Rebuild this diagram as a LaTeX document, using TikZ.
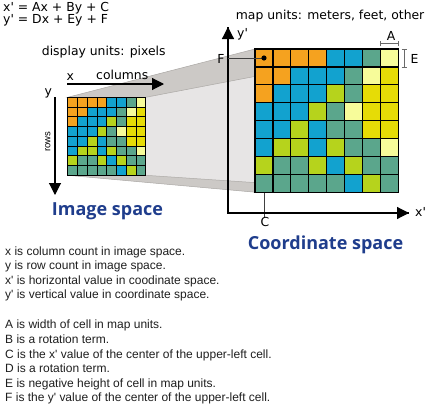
\documentclass[tikz,border=0pt]{standalone}
\usepackage{fontspec}
\setmainfont{Liberation Sans}
\newfontfamily\lblfont{DejaVu Sans}
\newfontfamily\ttlfont{Open Sans}
\usetikzlibrary{arrows.meta}
\definecolor{cO}{HTML}{F5A21F}
\definecolor{cB}{HTML}{12A2CF}
\definecolor{cG}{HTML}{5BA68C}
\definecolor{cL}{HTML}{F7FC9A}
\definecolor{cY}{HTML}{E6DC06}
\definecolor{cM}{HTML}{B6D31C}
\definecolor{bandgray}{HTML}{CCC9C6}
\definecolor{bandedge}{HTML}{AAA7A4}
\definecolor{facegray}{HTML}{E7E5E5}
\definecolor{titleblue}{HTML}{1F3D8C}
\definecolor{markgray}{HTML}{6A6A6A}
\definecolor{textdark}{HTML}{1E1E1E}
\newcommand\pr{\textquotesingle}
\newcommand\rastercells[4]{%
  \begin{scope}[shift={(#1,#2)}, x=#3pt, y=-#3pt]
    \foreach \r [count=\i from 0] in {{O,O,O,O,B,B,G,L},{O,O,B,B,B,G,L,Y},{O,B,B,B,M,G,Y,Y},{B,B,B,M,G,L,Y,Y},{B,B,M,B,G,G,Y,Y},{B,M,M,B,M,G,G,L},{M,G,G,M,B,M,G,G},{G,G,G,G,G,B,M,G}}{
      \foreach \c [count=\j from 0] in \r {
        \fill[c\c] (\j,\i) rectangle ++(1,1);
      }
    }
    \foreach \k in {0,...,8}{
      \draw[line width=#4, line cap=rect] (\k,0) -- (\k,8);
      \draw[line width=#4, line cap=rect] (0,\k) -- (8,\k);
    }
  \end{scope}}
\tikzset{
  lbl/.style={font=\lblfont\fontsize{12.4}{14}\selectfont, inner sep=0pt, text=black},
  body/.style={font=\fontsize{12}{14.6}\selectfont, inner sep=0pt, text=textdark},
  ttl/.style={font=\ttlfont\bfseries\fontsize{18}{20}\selectfont, inner sep=0pt, text=titleblue},
  axisarrow/.style={line width=1.2pt, -{Triangle[length=12pt,width=12pt]}},
  band/.style={fill=bandgray, draw=bandedge, line width=0.5pt},
  guide/.style={draw=black!75, line width=0.9pt},
  dimmark/.style={draw=markgray, line width=1pt}
}
\begin{document}
\begin{tikzpicture}[x=1pt,y=-1pt]
\useasboundingbox (0,0) rectangle (432,407);
% corners of the small and large rasters
\coordinate (TLs) at (67.7,97.3);
\coordinate (TRs) at (145.7,97.3);
\coordinate (BLs) at (67.7,175.3);
\coordinate (BRs) at (145.7,175.3);
\coordinate (TLl) at (255,49);
\coordinate (TRl) at (398.2,49);
\coordinate (BLl) at (255,192.2);
\coordinate (BRl) at (398.2,192.2);
% projection funnel
\fill[facegray] (TRs) -- (TRl) -- (BRl) -- (BRs) -- cycle;
\filldraw[band] (TLs) -- (TLl) -- (TRl) -- (TRs) -- cycle;
\filldraw[band] (BLs) -- (BLl) -- (BRl) -- (BRs) -- cycle;
% C guide line (behind the large raster)
\coordinate (dot) at (264,58);
\coordinate (cend) at (264,216.5);
\draw[guide] (dot) -- (cend);
% rasters
\rastercells{67.7}{97.3}{9.75}{0.9pt}
\rastercells{255}{49}{17.9}{1.2pt}
% axes of the coordinate space
\coordinate (orig) at (228,213);
\coordinate (ytip) at (228,27);
\coordinate (xtip) at (409,213);
\draw[line width=1.2pt] (ytip) -- (orig) -- (xtip);
\draw[axisarrow] (orig) -- (ytip);
\draw[axisarrow] (orig) -- (xtip);
% F guide line and the cell-centre dot
\coordinate (fstart) at (228,58);
\draw[guide] (fstart) -- (dot);
\fill[black] (dot) circle (2.6);
% A and E dimension marks
\coordinate (a1) at (380.3,43.8);
\coordinate (a2) at (398.2,43.8);
\draw[dimmark] (a1) -- (a2);
\draw[dimmark] ([yshift=-2.6pt]a1) -- ([yshift=2.6pt]a1);
\draw[dimmark] ([yshift=-2.6pt]a2) -- ([yshift=2.6pt]a2);
\coordinate (e1) at (404.2,49.5);
\coordinate (e2) at (404.2,67.8);
\draw[dimmark] (e1) -- (e2);
\draw[dimmark] ([xshift=-2.6pt]e1) -- ([xshift=2.6pt]e1);
\draw[dimmark] ([xshift=-2.6pt]e2) -- ([xshift=2.6pt]e2);
% image space arrows
\coordinate (xa0) at (67,84);
\coordinate (xa1) at (164,84);
\coordinate (ya0) at (55,97);
\coordinate (ya1) at (55,195);
\draw[axisarrow, line width=1.1pt] (xa0) -- (xa1);
\draw[axisarrow, line width=1.1pt] (ya0) -- (ya1);
% labels
\node[lbl, anchor=base west] (eq1) at (3,11.7) {x\pr{} = Ax + By + C};
\node[lbl, anchor=base west] (eq2) at (3,23.3) {y\pr{} = Dx + Ey + F};
\node[lbl, anchor=base west] (disp) at (41.7,55.5) {display units: pixels};
\node[lbl, anchor=base west] (mapu) at (235.7,19.3) {map units: meters, feet, other};
\node[lbl, anchor=base west] (xlab) at (66.5,80) {x};
\node[lbl, anchor=base west] (cols) at (96,79) {columns};
\node[lbl, anchor=base west] (ylab) at (44.5,95.5) {y};
\node[font=\fontsize{9.5}{10}\selectfont, inner sep=0pt, rotate=90] (rows) at (47.8,141.5) {rows};
\node[lbl, anchor=base] (flab) at (221,63.3) {F};
\node[lbl, anchor=base] (alab) at (391,40) {A};
\node[lbl, anchor=base] (elab) at (414.5,63.3) {E};
\node[lbl, anchor=base] (clab) at (265,226) {C};
\node[lbl, anchor=base west] (yplab) at (237,37) {y\pr};
\node[lbl, anchor=base west] (xplab) at (415,216.7) {x\pr};
\node[ttl, anchor=base] (imgsp) at (107.5,215) {Image space};
\node[ttl, anchor=base] (crdsp) at (325.5,249) {Coordinate space};
% explanatory text
\foreach \t [count=\i from 0] in {x is column count in image space., y is row count in image space., x\pr{} is horizontal value in coodinate space., y\pr{} is vertical value in coordinate space.}
  \node[body, anchor=base west] (ta\i) at (5,255+14.6*\i) {\t};
\foreach \t [count=\i from 0] in {A is width of cell in map units., B is a rotation term., C is the x\pr{} value of the center of the upper-left cell., D is a rotation term., E is negative height of cell in map units., F is the y\pr{} value of the center of the upper-left cell.}
  \node[body, anchor=base west] (tb\i) at (5,328.8+14.6*\i) {\t};
\end{tikzpicture}
\end{document}
